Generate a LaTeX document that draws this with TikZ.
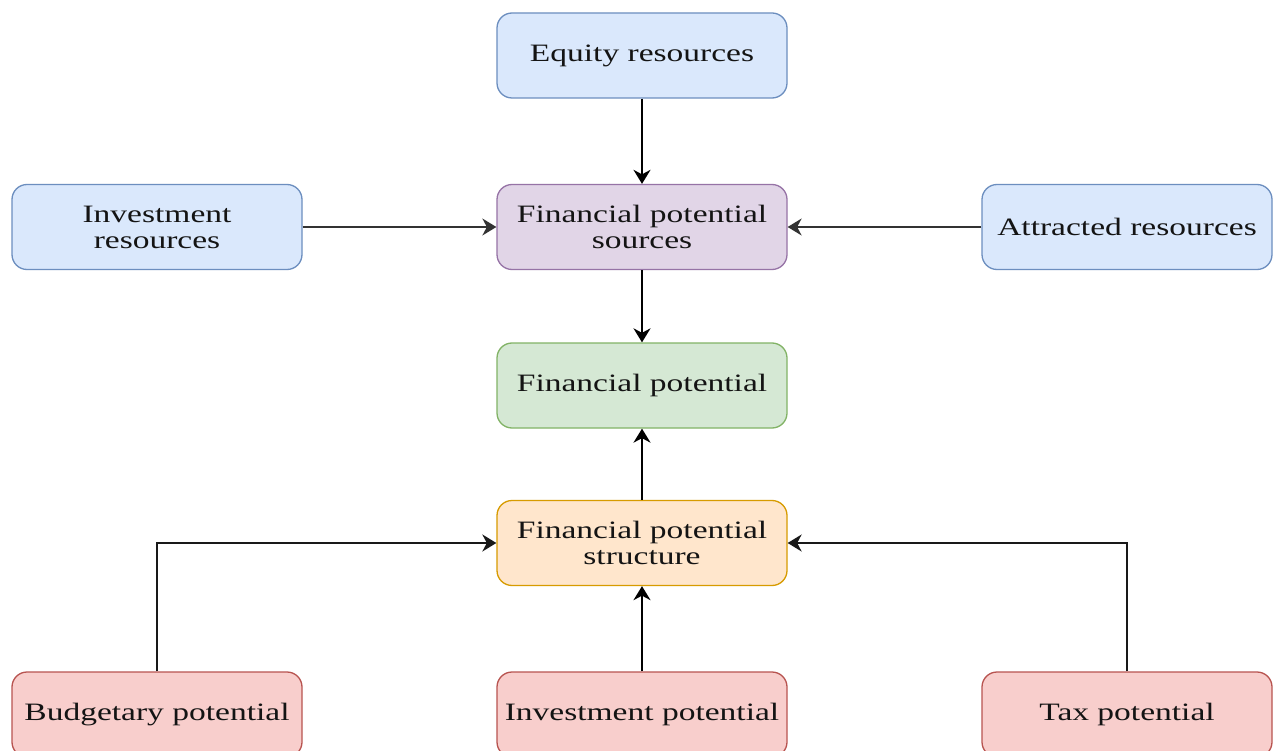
\documentclass[tikz,border=0pt]{standalone}
\usepackage{fontspec}
\setmainfont{Liberation Serif}[FakeStretch=1.34]
\usetikzlibrary{arrows.meta}

\definecolor{bluefill}{HTML}{DAE8FC}\definecolor{bluedraw}{HTML}{6C8EBF}
\definecolor{purplefill}{HTML}{E1D5E7}\definecolor{purpledraw}{HTML}{9673A6}
\definecolor{greenfill}{HTML}{D5E8D4}\definecolor{greendraw}{HTML}{82B366}
\definecolor{orangefill}{HTML}{FFE6CC}\definecolor{orangedraw}{HTML}{D79B00}
\definecolor{redfill}{HTML}{F8CECC}\definecolor{reddraw}{HTML}{B85450}
\definecolor{ink}{HTML}{141414}

\tikzset{
  box/.style={draw, line width=1.3pt, rounded corners=15pt, minimum width=290pt,
    minimum height=85pt, align=center, text=ink, inner sep=0pt,
    font=\fontsize{25}{26}\selectfont},
  bluebox/.style={box, fill=bluefill, draw=bluedraw},
  purplebox/.style={box, fill=purplefill, draw=purpledraw},
  greenbox/.style={box, fill=greenfill, draw=greendraw},
  orangebox/.style={box, fill=orangefill, draw=orangedraw},
  redbox/.style={box, fill=redfill, draw=reddraw},
  tip/.style={-{Stealth[length=14pt,width=17pt,inset=4.5pt]}},
  thick link/.style={tip, line width=2.4pt, draw=black},
  thin link/.style={tip, line width=1.4pt, draw=black!80},
  elbow link/.style={tip, line width=2pt, draw=black!90},
}

\begin{document}
\begin{tikzpicture}[x=1pt, y=-1pt]
  % page frame
  \clip (0,0) rectangle (1277,751);
  \fill[white] (0,0) rectangle (1277,751);

  % upper row: sources of the financial potential
  \node[bluebox]   (eq)   at (642,55.5)   {Equity resources};
  \node[bluebox]   (inv)  at (157,227)    {Investment\\resources};
  \node[purplebox] (fps)  at (642,227)    {Financial potential\\sources};
  \node[bluebox]   (att)  at (1127,227)   {Attracted resources};

  % centre
  \node[greenbox]  (fp)   at (642,385.5)  {Financial potential};
  \node[orangebox] (fpst) at (642,543)    {Financial potential\\structure};

  % lower row: components of the structure
  \node[redbox]    (bud)  at (157,714.5)  {Budgetary potential};
  \node[redbox]    (invp) at (642,714.5)  {Investment potential};
  \node[redbox]    (tax)  at (1127,714.5) {Tax potential};

  % connectors
  \draw[thick link] (eq.south)   -- (fps.north);
  \draw[thin link]  (inv.east)   -- (fps.west);
  \draw[thin link]  (att.west)   -- (fps.east);
  \draw[thick link] (fps.south)  -- (fp.north);
  \draw[thick link] (fpst.north) -- (fp.south);
  \draw[elbow link] (bud.north)  |- (fpst.west);
  \draw[elbow link] (tax.north)  |- (fpst.east);
  \draw[thick link] (invp.north) -- (fpst.south);
\end{tikzpicture}
\end{document}
